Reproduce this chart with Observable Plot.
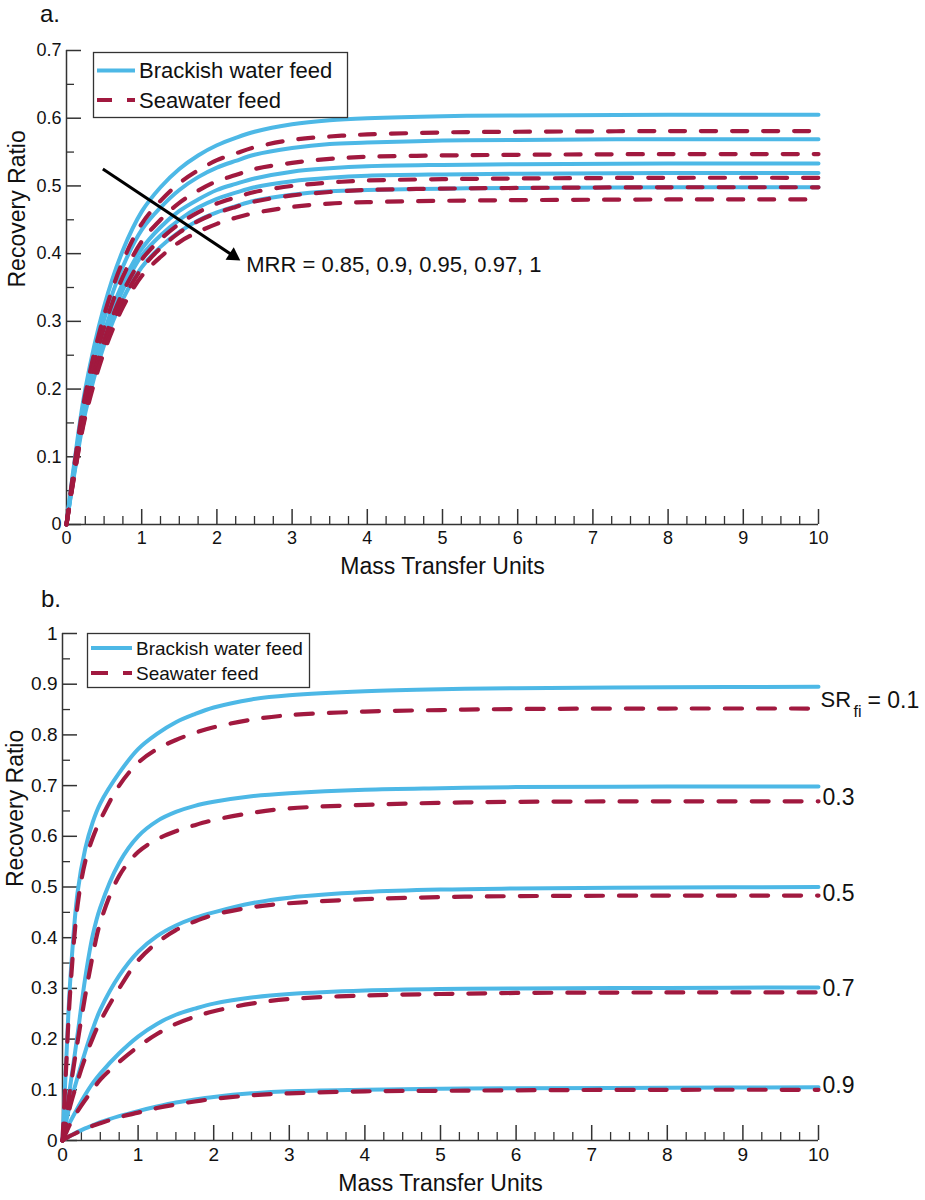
<!DOCTYPE html>
<html><head><meta charset="utf-8">
<script src="https://cdn.jsdelivr.net/npm/d3@7"></script>
<script src="https://cdn.jsdelivr.net/npm/@observablehq/plot@0.6"></script>
<style>
body{margin:0;background:#fff;font-family:"Liberation Sans",Arial,Helvetica,sans-serif;}
#page{position:relative;width:925px;height:1200px;overflow:hidden;background:#fff;}
.panel{position:absolute;left:0;}
.tag{position:absolute;font-size:24px;line-height:24px;color:#111;}
.legend{position:absolute;left:0;top:0;}
</style></head><body><div id="page">
<div class="panel" id="pa" style="top:0"></div>
<div class="panel" id="pb" style="top:600px"></div>
<div class="tag" style="left:40px;top:1.5px">a.</div>
<div class="tag" style="left:41px;top:587px">b.</div>
</div>
<script>
// ---------- Panel a data ----------
const xA = [0, 0.1, 0.25, 0.5, 0.75, 1, 1.25, 1.5, 1.75, 2, 2.25, 2.5, 3, 3.5, 4, 5, 6, 8, 10];
const mrrValues = ["0.85", "0.9", "0.95", "0.97", "1"];
const brackishA = [
  [0, 0.088, 0.2, 0.322, 0.405, 0.462, 0.498, 0.525, 0.545, 0.56, 0.571, 0.58, 0.591, 0.597, 0.6, 0.603, 0.604, 0.605, 0.605],
  [0, 0.083, 0.188, 0.303, 0.381, 0.435, 0.468, 0.494, 0.513, 0.527, 0.537, 0.546, 0.556, 0.562, 0.564, 0.567, 0.568, 0.569, 0.569],
  [0, 0.077, 0.176, 0.284, 0.357, 0.407, 0.439, 0.463, 0.48, 0.494, 0.503, 0.511, 0.521, 0.526, 0.529, 0.531, 0.532, 0.533, 0.533],
  [0, 0.075, 0.172, 0.276, 0.347, 0.397, 0.427, 0.45, 0.468, 0.481, 0.49, 0.498, 0.507, 0.512, 0.515, 0.517, 0.518, 0.519, 0.519],
  [0, 0.072, 0.165, 0.265, 0.333, 0.38, 0.41, 0.432, 0.449, 0.461, 0.47, 0.478, 0.487, 0.492, 0.494, 0.496, 0.497, 0.498, 0.498]
];
const seawaterA = [
  [0, 0.084, 0.192, 0.309, 0.389, 0.444, 0.478, 0.504, 0.523, 0.538, 0.548, 0.557, 0.568, 0.573, 0.576, 0.579, 0.58, 0.581, 0.581],
  [0, 0.079, 0.181, 0.291, 0.366, 0.418, 0.45, 0.475, 0.493, 0.507, 0.516, 0.525, 0.534, 0.54, 0.543, 0.545, 0.546, 0.547, 0.547],
  [0, 0.074, 0.169, 0.272, 0.343, 0.391, 0.421, 0.444, 0.461, 0.474, 0.483, 0.491, 0.5, 0.505, 0.508, 0.51, 0.511, 0.512, 0.512],
  [0, 0.071, 0.163, 0.263, 0.331, 0.378, 0.408, 0.431, 0.448, 0.46, 0.469, 0.477, 0.486, 0.491, 0.494, 0.496, 0.497, 0.498, 0.498],
  [0, 0.07, 0.159, 0.255, 0.321, 0.367, 0.395, 0.417, 0.432, 0.444, 0.453, 0.46, 0.469, 0.474, 0.476, 0.478, 0.479, 0.48, 0.48]
];
const annotA = [{x1: 0.55, y1: 0.52, x2: 2.31, y2: 0.39, tx: 2.39, ty: 0.383, label: "MRR = 0.85, 0.9, 0.95, 0.97, 1"}];

// ---------- Panel b data ----------
const xB = [0, 0.02, 0.05, 0.1, 0.2, 0.3, 0.4, 0.5, 0.75, 1, 1.25, 1.5, 1.75, 2, 2.5, 3, 4, 5, 6, 8, 10];
const srValues = ["0.1", "0.3", "0.5", "0.7", "0.9"];
const srLabelY = [0.868, 0.677, 0.487, 0.30, 0.108];
const brackishB = [
  [0, 0.065, 0.16, 0.31, 0.49, 0.575, 0.628, 0.665, 0.725, 0.772, 0.802, 0.825, 0.841, 0.854, 0.87, 0.878, 0.886, 0.89, 0.892, 0.894, 0.895],
  [0, 0.022, 0.054, 0.105, 0.21, 0.32, 0.405, 0.46, 0.548, 0.6, 0.63, 0.648, 0.66, 0.668, 0.679, 0.685, 0.692, 0.695, 0.697, 0.698, 0.698],
  [0, 0.015, 0.038, 0.072, 0.125, 0.175, 0.22, 0.258, 0.325, 0.372, 0.403, 0.424, 0.439, 0.45, 0.468, 0.479, 0.49, 0.495, 0.497, 0.499, 0.5],
  [0, 0.007, 0.018, 0.036, 0.064, 0.09, 0.113, 0.132, 0.172, 0.205, 0.23, 0.248, 0.26, 0.27, 0.282, 0.289, 0.296, 0.299, 0.3, 0.301, 0.302],
  [0, 0.002, 0.0045, 0.009, 0.017, 0.024, 0.03, 0.036, 0.048, 0.058, 0.067, 0.075, 0.081, 0.086, 0.093, 0.097, 0.1, 0.102, 0.103, 0.104, 0.105]
];
const seawaterB = [
  [0, 0.06, 0.15, 0.29, 0.465, 0.55, 0.597, 0.632, 0.7, 0.745, 0.772, 0.79, 0.804, 0.815, 0.83, 0.839, 0.846, 0.849, 0.851, 0.852, 0.852],
  [0, 0.02, 0.05, 0.1, 0.195, 0.285, 0.365, 0.43, 0.522, 0.569, 0.594, 0.61, 0.622, 0.632, 0.646, 0.655, 0.662, 0.666, 0.668, 0.669, 0.669],
  [0, 0.014, 0.035, 0.067, 0.118, 0.163, 0.202, 0.235, 0.3, 0.355, 0.39, 0.415, 0.432, 0.445, 0.46, 0.468, 0.476, 0.48, 0.482, 0.483, 0.483],
  [0, 0.006, 0.016, 0.032, 0.058, 0.08, 0.1, 0.12, 0.155, 0.185, 0.21, 0.23, 0.244, 0.255, 0.27, 0.279, 0.286, 0.289, 0.291, 0.292, 0.292],
  [0, 0.002, 0.0045, 0.009, 0.016, 0.023, 0.029, 0.034, 0.046, 0.055, 0.064, 0.071, 0.077, 0.082, 0.089, 0.093, 0.097, 0.098, 0.099, 0.1, 0.1]
];

// ---------- ticks ----------
const xMajor = [0, 1, 2, 3, 4, 5, 6, 7, 8, 9, 10];
const xMinor = [0.25, 0.5, 0.75, 1.25, 1.5, 1.75, 2.25, 2.5, 2.75, 3.25, 3.5, 3.75, 4.25, 4.5, 4.75, 5.25, 5.5, 5.75, 6.25, 6.5, 6.75, 7.25, 7.5, 7.75, 8.25, 8.5, 8.75, 9.25, 9.5, 9.75];
const yMajorA = [0, 0.1, 0.2, 0.3, 0.4, 0.5, 0.6, 0.7];
const yMinorA = [0.05, 0.15, 0.25, 0.35, 0.45, 0.55, 0.65];
const yMajorB = [0, 0.1, 0.2, 0.3, 0.4, 0.5, 0.6, 0.7, 0.8, 0.9, 1];
const yMinorB = [0.05, 0.15, 0.25, 0.35, 0.45, 0.55, 0.65, 0.75, 0.85, 0.95];
const xTitle = "Mass Transfer Units";
const yTitle = "Recovery Ratio";
const legendNames = ["Brackish water feed", "Seawater feed"];

const BLUE = "#4db8e6", RED = "#a1193f", AXIS = "#333";
const FONT = "Liberation Sans, Arial, Helvetica, sans-serif";

function rows(xs, series, names) {
  return series.flatMap((ys, i) => ys.map((y, j) => ({x: xs[j], y, s: names[i]})));
}

function frameMarks(o) {
  const {yMajor, yMinor, plotW, plotH, tickFont, xLabDy, titleFont, xTitleDy, yTitleDx} = o;
  return [
    Plot.ruleY([0], {stroke: AXIS, strokeWidth: 1.5}),
    Plot.ruleX([0], {stroke: AXIS, strokeWidth: 1.5}),
    Plot.tickX(xMajor, {x: d => d, stroke: AXIS, strokeWidth: 1.5, insetTop: plotH - 15}),
    Plot.tickX(xMinor, {x: d => d, stroke: AXIS, strokeWidth: 1.3, insetTop: plotH - 8}),
    Plot.tickY(yMajor, {y: d => d, stroke: AXIS, strokeWidth: 1.5, insetRight: plotW - 15}),
    Plot.tickY(yMinor, {y: d => d, stroke: AXIS, strokeWidth: 1.3, insetRight: plotW - 8}),
    Plot.text(xMajor, {x: d => d, text: d => String(d), frameAnchor: "bottom", dy: xLabDy, fontSize: tickFont, fill: "#111"}),
    Plot.text(yMajor, {y: d => d, text: d => String(d), frameAnchor: "left", dx: -5, textAnchor: "end", fontSize: tickFont, fill: "#111"}),
    Plot.text([xTitle], {text: d => d, frameAnchor: "bottom", dy: xTitleDy, fontSize: titleFont, fill: "#111"}),
    Plot.text([yTitle], {text: d => d, frameAnchor: "left", dx: yTitleDx, rotate: -90, fontSize: titleFont, fill: "#111"})
  ];
}

// ---------- Panel a ----------
const mA = {top: 50, bottom: 76, left: 66, right: 107};
const plotA = Plot.plot({
  width: 925, height: 600,
  marginTop: mA.top, marginBottom: mA.bottom, marginLeft: mA.left, marginRight: mA.right,
  style: {fontFamily: FONT, background: "transparent", overflow: "visible"},
  x: {domain: [0, 10], axis: null},
  y: {domain: [0, 0.7], axis: null},
  marks: [
    ...frameMarks({yMajor: yMajorA, yMinor: yMinorA, plotW: 925 - mA.left - mA.right, plotH: 600 - mA.top - mA.bottom,
      tickFont: 18, xLabDy: 19, titleFont: 23, xTitleDy: 49, yTitleDx: -49}),
    Plot.line(rows(xA, brackishA, mrrValues), {x: "x", y: "y", z: "s", stroke: BLUE, strokeWidth: 4, curve: "catmull-rom"}),
    Plot.line(rows(xA, seawaterA, mrrValues), {x: "x", y: "y", z: "s", stroke: RED, strokeWidth: 4.2, strokeDasharray: "15,16", curve: "catmull-rom"}),
    Plot.link(annotA, {x1: "x1", y1: "y1", x2: "x2", y2: "y2", stroke: "#000", strokeWidth: 3, dx: -5, dy: -3.3}),
    Plot.dot(annotA, {x: "x2", y: "y2", symbol: "triangle", r: 5.5, fill: "#000", stroke: "none", rotate: 123.5, dx: -7, dy: -4.6}),
    Plot.text(annotA, {x: "tx", y: "ty", text: "label", textAnchor: "start", fontSize: 22, fill: "#111"})
  ]
});
document.getElementById("pa").appendChild(plotA);

// ---------- Panel b ----------
const mB = {top: 33, bottom: 60, left: 62, right: 107};
const labRows = srValues.map((v, i) => ({v, y: srLabelY[i], first: i === 0}));
const plotB = Plot.plot({
  width: 925, height: 600,
  marginTop: mB.top, marginBottom: mB.bottom, marginLeft: mB.left, marginRight: mB.right,
  style: {fontFamily: FONT, background: "transparent", overflow: "visible"},
  x: {domain: [0, 10], axis: null},
  y: {domain: [0, 1], axis: null},
  marks: [
    ...frameMarks({yMajor: yMajorB, yMinor: yMinorB, plotW: 925 - mB.left - mB.right, plotH: 600 - mB.top - mB.bottom,
      tickFont: 19, xLabDy: 20, titleFont: 23, xTitleDy: 50, yTitleDx: -47}),
    Plot.line(rows(xB, brackishB, srValues), {x: "x", y: "y", z: "s", stroke: BLUE, strokeWidth: 4, curve: "catmull-rom"}),
    Plot.line(rows(xB, seawaterB, srValues), {x: "x", y: "y", z: "s", stroke: RED, strokeWidth: 4.2, strokeDasharray: "17,16", curve: "catmull-rom"}),
    Plot.text(labRows.filter(d => !d.first), {x: () => 10, y: "y", text: "v", dx: 4, textAnchor: "start", fontSize: 23, fill: "#111"}),
    Plot.text(labRows.filter(d => d.first), {x: () => 10, y: "y", text: () => "SR", dx: 2, textAnchor: "start", fontSize: 22, fill: "#111"}),
    Plot.text(labRows.filter(d => d.first), {x: () => 10, y: "y", text: () => "fi", dx: 35, dy: 11, textAnchor: "start", fontSize: 16, fill: "#111"}),
    Plot.text(labRows.filter(d => d.first), {x: () => 10, y: "y", text: d => "= " + d.v, dx: 49, textAnchor: "start", fontSize: 23, fill: "#111"})
  ]
});
document.getElementById("pb").appendChild(plotB);

// ---------- Legends ----------
function legend(cfg) {
  const svg = d3.select("#page").append("svg").attr("class", "legend")
    .attr("width", 925).attr("height", 1200).style("pointer-events", "none");
  svg.append("rect").attr("x", cfg.x + 0.5).attr("y", cfg.y + 0.5).attr("width", cfg.w).attr("height", cfg.h)
    .attr("fill", "#fff").attr("stroke", "#333").attr("stroke-width", 1.3);
  cfg.rows.forEach((r, i) => {
    svg.append("line").attr("x1", cfg.lx1).attr("x2", cfg.lx2).attr("y1", r).attr("y2", r)
      .attr("stroke", i === 0 ? BLUE : RED).attr("stroke-width", 4)
      .attr("stroke-dasharray", i === 0 ? null : cfg.dash);
    svg.append("text").attr("x", cfg.tx).attr("y", r).attr("dy", "0.36em")
      .attr("font-size", cfg.font).attr("font-family", FONT).attr("fill", "#111").text(legendNames[i]);
  });
}
legend({x: 93, y: 52, w: 254, h: 65, rows: [70.5, 100], lx1: 97, lx2: 135, tx: 139, font: 22, dash: "15,15"});
legend({x: 87, y: 633, w: 222, h: 54, rows: [648, 673], lx1: 91, lx2: 132, tx: 136, font: 19, dash: "17,15"});
</script>
</body></html>
